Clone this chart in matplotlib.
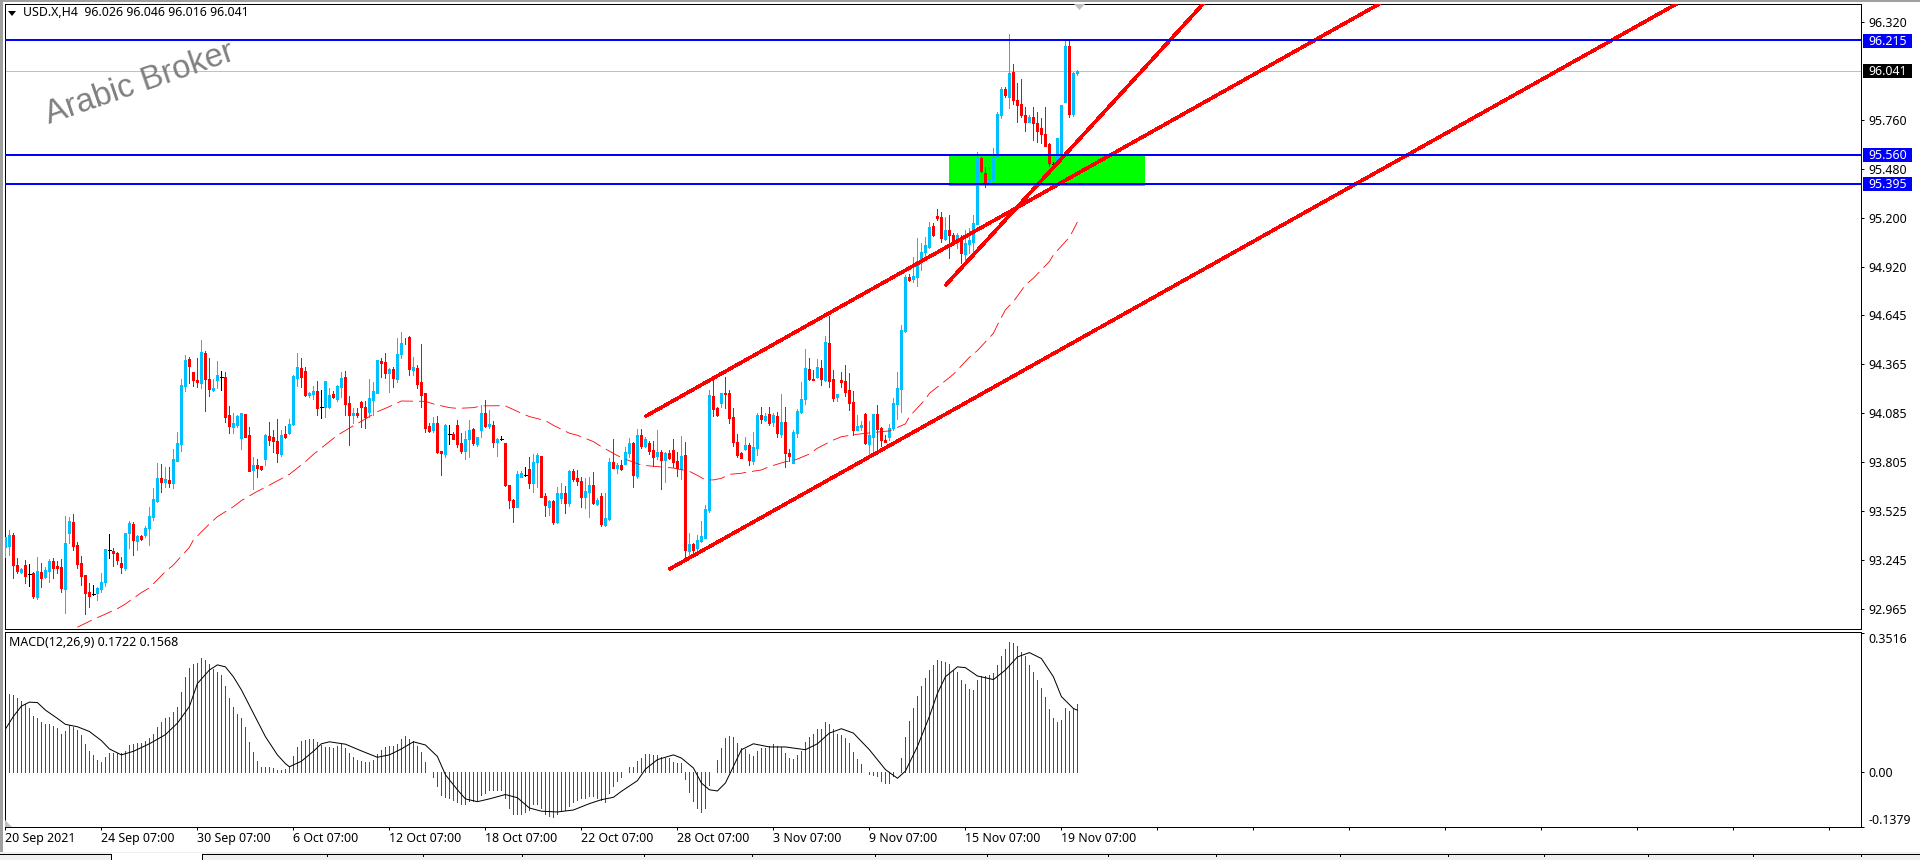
"""USD.X H4 chart with MACD panel, MT4 style."""
import matplotlib
matplotlib.use('Agg')
import matplotlib.pyplot as plt
import numpy as np
from matplotlib.lines import Line2D
from matplotlib.patches import Polygon, Rectangle

# candles, one value per H4 bar, ten per row
opens = [
    93.322, 93.326, 93.388, 93.217, 93.177, 93.217, 93.164, 93.169, 93.036, 93.179,
    93.146, 93.185, 93.240, 93.211, 93.207, 93.082, 93.398, 93.465, 93.331, 93.230,
    93.160, 93.063, 93.049, 93.059, 93.082, 93.122, 93.303, 93.299, 93.287, 93.230,
    93.198, 93.398, 93.451, 93.356, 93.383, 93.386, 93.428, 93.493, 93.583, 93.714,
    93.691, 93.703, 93.687, 93.813, 93.908, 94.240, 94.394, 94.322, 94.274, 94.255,
    94.430, 94.278, 94.217, 94.274, 94.293, 94.291, 94.074, 94.007, 94.015, 93.941,
    94.080, 93.960, 93.760, 93.788, 93.785, 93.821, 93.954, 93.947, 93.927, 93.851,
    93.966, 93.973, 94.023, 94.284, 94.345, 94.327, 94.188, 94.194, 94.211, 94.118,
    94.118, 94.118, 94.194, 94.164, 94.236, 94.293, 94.141, 94.074, 94.087, 94.148,
    94.122, 94.093, 94.160, 94.202, 94.385, 94.375, 94.316, 94.335, 94.280, 94.423,
    94.487, 94.522, 94.331, 94.343, 94.263, 94.198, 94.011, 93.988, 94.027, 93.870,
    93.851, 93.964, 93.966, 94.015, 93.912, 93.870, 93.935, 93.992, 93.908, 93.988,
    94.087, 94.011, 94.017, 93.922, 93.939, 93.914, 93.674, 93.588, 93.550, 93.722,
    93.729, 93.766, 93.684, 93.804, 93.840, 93.611, 93.550, 93.583, 93.463, 93.598,
    93.628, 93.569, 93.754, 93.714, 93.699, 93.604, 93.634, 93.674, 93.566, 93.611,
    93.446, 93.480, 93.804, 93.769, 93.788, 93.794, 93.855, 93.914, 93.726, 93.960,
    93.897, 93.914, 93.874, 93.840, 93.863, 93.817, 93.855, 93.874, 93.811, 93.767,
    93.846, 93.299, 93.337, 93.314, 93.354, 93.373, 93.531, 94.183, 94.116, 94.141,
    94.200, 94.198, 94.063, 93.920, 93.859, 93.878, 93.903, 93.809, 93.886, 94.072,
    94.046, 94.078, 94.034, 94.066, 93.966, 94.034, 93.857, 93.802, 93.973, 94.093,
    94.164, 94.335, 94.280, 94.293, 94.345, 94.274, 94.487, 94.278, 94.175, 94.272,
    94.268, 94.217, 94.148, 93.988, 94.007, 94.080, 93.908, 93.950, 94.080, 94.000,
    93.931, 93.947, 93.998, 94.137, 94.223, 94.554, 94.865, 94.850, 94.865, 94.951,
    95.004, 95.036, 95.154, 95.211, 95.204, 95.082, 95.132, 95.103, 95.074, 95.084,
    94.995, 95.052, 95.065, 95.166, 95.541, 95.456, 95.398, 95.417, 95.551, 95.789,
    95.937, 95.894, 96.035, 95.875, 95.852, 95.789, 95.749, 95.779, 95.745, 95.715,
    95.680, 95.623, 95.509, 95.509, 95.570, 95.865, 96.183, 95.793, 96.026,
]
highs = [
    93.379, 93.417, 93.398, 93.255, 93.198, 93.246, 93.223, 93.179, 93.261, 93.226,
    93.207, 93.249, 93.255, 93.242, 93.249, 93.497, 93.493, 93.508, 93.350, 93.268,
    93.160, 93.112, 93.103, 93.093, 93.169, 93.308, 93.394, 93.312, 93.293, 93.261,
    93.398, 93.468, 93.465, 93.388, 93.388, 93.440, 93.550, 93.655, 93.798, 93.794,
    93.779, 93.779, 93.878, 93.979, 94.278, 94.417, 94.407, 94.322, 94.402, 94.503,
    94.442, 94.402, 94.278, 94.383, 94.326, 94.322, 94.126, 94.084, 94.074, 94.084,
    94.080, 94.007, 93.832, 93.821, 93.785, 93.966, 94.032, 93.988, 94.051, 93.988,
    94.011, 94.049, 94.303, 94.427, 94.402, 94.350, 94.208, 94.240, 94.268, 94.217,
    94.268, 94.227, 94.213, 94.246, 94.322, 94.326, 94.183, 94.112, 94.112, 94.154,
    94.154, 94.278, 94.265, 94.388, 94.398, 94.427, 94.345, 94.347, 94.512, 94.550,
    94.512, 94.526, 94.404, 94.360, 94.480, 94.198, 94.027, 94.065, 94.068, 93.870,
    94.023, 94.017, 93.979, 94.046, 93.969, 93.985, 94.046, 93.998, 93.950, 94.131,
    94.160, 94.103, 94.040, 93.941, 93.954, 93.914, 93.674, 93.592, 93.756, 93.756,
    93.777, 93.832, 93.851, 93.859, 93.840, 93.626, 93.588, 93.588, 93.665, 93.684,
    93.668, 93.760, 93.766, 93.760, 93.722, 93.716, 93.722, 93.747, 93.598, 93.630,
    93.630, 93.827, 93.939, 93.798, 93.817, 93.893, 93.941, 93.918, 93.992, 93.994,
    93.950, 93.927, 93.927, 93.988, 93.874, 93.863, 93.874, 93.935, 93.865, 93.954,
    93.920, 93.398, 93.341, 93.388, 93.468, 93.560, 94.217, 94.284, 94.122, 94.202,
    94.293, 94.217, 94.112, 93.966, 93.863, 93.947, 93.912, 93.977, 94.084, 94.118,
    94.084, 94.118, 94.084, 94.093, 94.194, 94.122, 93.878, 93.988, 94.107, 94.265,
    94.451, 94.398, 94.331, 94.392, 94.388, 94.526, 94.640, 94.331, 94.194, 94.322,
    94.360, 94.312, 94.213, 94.074, 94.040, 94.084, 94.040, 94.080, 94.131, 94.007,
    93.960, 94.023, 94.169, 94.322, 94.588, 94.873, 94.880, 94.979, 95.086, 95.059,
    95.094, 95.179, 95.170, 95.250, 95.236, 95.208, 95.217, 95.113, 95.113, 95.103,
    95.132, 95.141, 95.217, 95.579, 95.547, 95.490, 95.494, 95.598, 95.808, 95.947,
    95.947, 96.252, 96.080, 95.970, 95.995, 95.836, 95.789, 95.833, 95.808, 95.770,
    95.833, 95.627, 95.522, 95.656, 95.846, 96.217, 96.214, 96.036, 96.046,
]
lows = [
    93.265, 93.274, 93.141, 93.169, 93.169, 93.112, 93.099, 93.026, 93.021, 93.093,
    93.141, 93.122, 93.141, 93.169, 93.065, 92.945, 93.341, 93.303, 93.198, 93.103,
    92.937, 92.975, 93.045, 93.017, 93.065, 93.097, 93.255, 93.211, 93.223, 93.173,
    93.188, 93.312, 93.274, 93.303, 93.360, 93.379, 93.331, 93.474, 93.579, 93.636,
    93.665, 93.665, 93.659, 93.813, 93.870, 94.213, 94.255, 94.242, 94.236, 94.230,
    94.099, 94.183, 94.213, 94.227, 94.217, 94.036, 93.973, 93.969, 94.007, 93.880,
    93.947, 93.756, 93.649, 93.722, 93.760, 93.788, 93.903, 93.865, 93.807, 93.840,
    93.941, 93.966, 94.017, 94.240, 94.236, 94.183, 94.179, 94.164, 94.074, 94.059,
    94.061, 94.112, 94.169, 94.156, 94.179, 94.074, 93.903, 94.030, 94.065, 94.007,
    94.002, 94.061, 94.074, 94.198, 94.293, 94.284, 94.208, 94.232, 94.265, 94.398,
    94.480, 94.303, 94.303, 94.227, 94.118, 93.979, 93.979, 93.979, 93.855, 93.731,
    93.832, 93.908, 93.935, 93.893, 93.855, 93.825, 93.836, 93.903, 93.897, 93.947,
    94.007, 93.998, 93.893, 93.840, 93.931, 93.668, 93.541, 93.463, 93.550, 93.722,
    93.726, 93.655, 93.636, 93.665, 93.604, 93.497, 93.503, 93.451, 93.455, 93.573,
    93.512, 93.554, 93.699, 93.674, 93.546, 93.541, 93.493, 93.566, 93.560, 93.440,
    93.440, 93.474, 93.769, 93.741, 93.760, 93.794, 93.836, 93.665, 93.712, 93.884,
    93.893, 93.851, 93.783, 93.821, 93.653, 93.691, 93.825, 93.779, 93.726, 93.710,
    93.255, 93.265, 93.293, 93.293, 93.350, 93.369, 93.522, 94.068, 94.068, 94.118,
    94.112, 94.027, 93.897, 93.836, 93.827, 93.874, 93.788, 93.794, 93.846, 94.030,
    94.042, 94.017, 94.011, 93.947, 93.950, 93.779, 93.809, 93.802, 93.950, 94.084,
    94.137, 94.274, 94.274, 94.284, 94.246, 94.270, 94.236, 94.156, 94.154, 94.236,
    94.183, 94.103, 93.960, 93.988, 93.988, 93.908, 93.840, 93.855, 93.865, 93.897,
    93.920, 93.931, 93.988, 94.051, 94.093, 94.550, 94.842, 94.836, 94.812, 94.903,
    94.979, 95.027, 95.097, 95.189, 95.065, 95.074, 94.970, 95.046, 95.027, 94.945,
    94.941, 94.998, 95.008, 95.166, 95.465, 95.376, 95.395, 95.414, 95.547, 95.774,
    95.894, 95.831, 95.852, 95.747, 95.779, 95.697, 95.749, 95.646, 95.636, 95.631,
    95.612, 95.497, 95.497, 95.503, 95.532, 95.865, 95.779, 95.785, 96.016,
]
closes = [
    93.379, 93.388, 93.217, 93.185, 93.192, 93.154, 93.164, 93.040, 93.183, 93.141,
    93.188, 93.242, 93.202, 93.200, 93.087, 93.345, 93.468, 93.326, 93.223, 93.154,
    93.055, 93.040, 93.049, 93.086, 93.122, 93.308, 93.303, 93.287, 93.246, 93.204,
    93.398, 93.455, 93.360, 93.383, 93.367, 93.426, 93.497, 93.594, 93.714, 93.693,
    93.708, 93.684, 93.823, 93.912, 94.246, 94.388, 94.354, 94.274, 94.263, 94.436,
    94.278, 94.223, 94.228, 94.303, 94.293, 94.061, 94.013, 94.030, 94.068, 94.084,
    93.950, 93.756, 93.788, 93.773, 93.766, 93.960, 93.931, 93.924, 93.859, 93.960,
    93.947, 94.023, 94.297, 94.350, 94.289, 94.188, 94.202, 94.211, 94.114, 94.118,
    94.268, 94.190, 94.175, 94.240, 94.284, 94.137, 94.074, 94.084, 94.076, 94.118,
    94.065, 94.169, 94.211, 94.388, 94.369, 94.316, 94.337, 94.284, 94.423, 94.484,
    94.484, 94.339, 94.350, 94.251, 94.188, 93.998, 93.983, 94.030, 93.861, 93.859,
    94.015, 93.964, 93.937, 93.908, 93.867, 93.939, 93.988, 93.912, 93.947, 94.087,
    94.011, 94.023, 93.922, 93.935, 93.939, 93.672, 93.588, 93.550, 93.737, 93.745,
    93.729, 93.684, 93.804, 93.846, 93.607, 93.558, 93.581, 93.463, 93.628, 93.626,
    93.573, 93.754, 93.710, 93.697, 93.607, 93.640, 93.674, 93.569, 93.588, 93.451,
    93.484, 93.804, 93.769, 93.788, 93.766, 93.861, 93.912, 93.731, 93.960, 93.897,
    93.935, 93.868, 93.836, 93.863, 93.817, 93.859, 93.828, 93.806, 93.769, 93.842,
    93.303, 93.337, 93.303, 93.360, 93.383, 93.537, 94.188, 94.107, 94.076, 94.198,
    94.196, 94.057, 93.920, 93.846, 93.828, 93.901, 93.817, 93.893, 94.074, 94.049,
    94.068, 94.030, 94.074, 93.969, 94.034, 93.859, 93.840, 93.979, 94.097, 94.166,
    94.343, 94.278, 94.276, 94.348, 94.278, 94.491, 94.267, 94.171, 94.194, 94.263,
    94.206, 94.145, 93.988, 94.011, 94.017, 93.912, 93.960, 94.080, 93.992, 93.931,
    93.920, 93.998, 94.143, 94.227, 94.560, 94.865, 94.846, 94.869, 94.955, 95.008,
    95.046, 95.147, 95.103, 95.198, 95.084, 95.132, 95.103, 95.071, 95.103, 94.998,
    95.059, 95.074, 95.170, 95.551, 95.469, 95.398, 95.421, 95.551, 95.795, 95.937,
    95.901, 96.027, 95.875, 95.846, 95.789, 95.751, 95.779, 95.745, 95.699, 95.680,
    95.614, 95.513, 95.509, 95.656, 95.846, 96.185, 95.793, 96.027, 96.041,
]

# moving average, read at sampled bars
ma_bars = [
    18, 22, 24, 28, 30, 34, 36, 40, 42, 46, 47, 51, 53, 57, 59, 63, 65, 69, 71, 75,
    77, 81, 83, 87, 89, 93, 95, 99, 105, 107, 111, 113, 117, 119, 123, 125, 129, 131,
    135, 137, 141, 143, 147, 149, 153, 155, 159, 161, 165, 167, 171, 173, 175, 177,
    179, 181, 184, 185, 189, 191, 195, 197, 201, 203, 207, 209, 213, 215, 219, 221,
    225, 226, 230, 231, 235, 237, 241, 243, 247, 248, 250, 252, 255, 257, 261, 262,
    266, 267, 268,
]
ma_values = [
    92.861, 92.906, 92.926, 92.967, 92.994, 93.059, 93.086, 93.179, 93.217, 93.318,
    93.360, 93.451, 93.493, 93.550, 93.585, 93.638, 93.661, 93.710, 93.735, 93.807,
    93.849, 93.922, 93.958, 94.013, 94.038, 94.093, 94.112, 94.154, 94.152, 94.137,
    94.116, 94.112, 94.116, 94.126, 94.127, 94.126, 94.084, 94.065, 94.042, 94.015,
    93.970, 93.958, 93.922, 93.893, 93.842, 93.821, 93.788, 93.783, 93.775, 93.771,
    93.752, 93.729, 93.703, 93.703, 93.712, 93.735, 93.741, 93.746, 93.760, 93.779,
    93.807, 93.813, 93.851, 93.884, 93.931, 93.950, 93.964, 93.969, 93.979, 93.983,
    94.023, 94.065, 94.164, 94.198, 94.270, 94.307, 94.404, 94.442, 94.541, 94.588,
    94.675, 94.722, 94.817, 94.856, 94.951, 94.989, 95.090, 95.132, 95.177,
]

# trend lines, two anchors each (bar, price)
channel_low_bars = [165.9, 417.9]
channel_low_prices = [93.192, 96.425]
channel_up_bars = [159.9, 343.6]
channel_up_prices = [94.065, 96.425]
steep_bars = [234.9, 299.5]
steep_prices = [94.812, 96.425]

zone_bars = [235.9, 284.9]
zone_prices = [95.385, 95.560]
level_prices = [96.215, 95.560, 95.395]
last_price = 96.041
price_ticks = [96.320, 95.760, 95.480, 95.200, 94.920, 94.645, 94.365, 94.085,
               93.805, 93.525, 93.245, 92.965]

macd_hist = [
    .181, .197, .196, .188, .180, .172, .162, .142, .137, .128,
    .122, .122, .117, .111, .097, .105, .119, .115, .107, .095,
    .072, .055, .043, .032, .027, .038, .049, .050, .049, .049,
    .055, .069, .071, .074, .075, .080, .086, .097, .114, .128,
    .136, .139, .151, .166, .203, .241, .262, .273, .276, .289,
    .283, .273, .260, .254, .245, .218, .187, .164, .147, .136,
    .114, .077, .052, .028, .013, .013, .013, .012, .005, .007,
    .008, .015, .040, .065, .079, .082, .084, .085, .077, .069,
    .064, .064, .062, .067, .072, .061, .049, .038, .032, .029,
    .025, .025, .032, .047, .057, .064, .067, .067, .072, .085,
    .092, .084, .079, .067, .052, .025, 0., -.013, -.035, -.056,
    -.063, -.066, -.069, -.075, -.079, -.079, -.073, -.073, -.071, -.056,
    -.052, -.045, -.045, -.045, -.045, -.065, -.090, -.106, -.106, -.104,
    -.100, -.094, -.081, -.079, -.090, -.105, -.109, -.113, -.106, -.098,
    -.095, -.085, -.075, -.070, -.064, -.064, -.060, -.060, -.064, -.069,
    -.075, -.052, -.035, -.023, -.013, 0., .014, .014, .029, .037,
    .047, .047, .044, .044, .038, .037, .037, .025, .023, .023,
    -.017, -.049, -.073, -.090, -.099, -.090, -.033, .002, .032, .062,
    .087, .092, .089, .075, .062, .059, .047, .042, .054, .062,
    .062, .067, .072, .067, .063, .050, .037, .034, .044, .053,
    .077, .089, .097, .110, .110, .127, .122, .110, .096, .095,
    .087, .074, .051, .034, .022, .002, -.005, -.007, -.010, -.021,
    -.028, -.028, -.010, .002, .037, .090, .130, .162, .192, .218,
    .238, .258, .270, .283, .280, .278, .273, .258, .253, .234,
    .223, .210, .208, .233, .243, .243, .246, .250, .270, .293,
    .310, .328, .325, .318, .303, .293, .270, .253, .233, .213,
    .189, .160, .137, .128, .132, .162, .155, .162, .1722,
]
signal_bars = [
    0, 2, 4, 6, 8, 10, 13, 15, 18, 21, 24, 26, 29, 32, 36, 40, 43, 46, 48, 51, 53,
    55, 57, 59, 62, 65, 68, 70, 71, 74, 77, 79, 81, 85, 89, 93, 96, 99, 102, 105,
    108, 110, 113, 115, 118, 121, 125, 128, 131, 134, 138, 142, 146, 149, 152, 154,
    158, 160, 163, 167, 169, 172, 174, 176, 178, 180, 182, 184, 187, 191, 195, 200,
    203, 206, 209, 212, 216, 220, 223, 225, 228, 231, 233, 235, 238, 240, 243, 247,
    250, 253, 256, 259, 262, 264, 267, 268,
]
signal_values = [
    .109, .141, .167, .177, .176, .157, .136, .121, .115, .103, .080, .059, .044,
    .053, .072, .095, .124, .166, .224, .258, .271, .266, .241, .208, .149, .090,
    .044, .022, .014, .028, .053, .072, .077, .071, .054, .038, .044, .059, .077,
    .069, .040, -.006, -.044, -.067, -.074, -.067, -.056, -.064, -.090, -.098,
    -.100, -.095, -.079, -.069, -.063, -.048, -.021, .008, .032, .044, .036, .011,
    -.027, -.044, -.047, -.027, .015, .057, .072, .064, .064, .057, .072, .099,
    .110, .099, .057, .007, -.015, .003, .065, .141, .199, .241, .266, .264, .243,
    .234, .258, .291, .302, .287, .241, .191, .161, .1568,
]
macd_ticks = [0.3516, 0.0, -0.1379]
macd_tick_labels = ['0.3516', '0.00', '-0.1379']

date_ticks = list(range(0, 457, 24))
date_labels = ['20 Sep 2021', '24 Sep 07:00', '30 Sep 07:00', '6 Oct 07:00', '12 Oct 07:00',
               '18 Oct 07:00', '22 Oct 07:00', '28 Oct 07:00', '3 Nov 07:00', '9 Nov 07:00',
               '15 Nov 07:00', '19 Nov 07:00'] + [''] * 8

W, H = 1920, 860
BULL = '#00bfff'
BEAR = '#ff0000'
FONT = 'Noto Sans'
FS = 8.9
PX = 0.72
PANEL_TOP, PANEL_BOTTOM = 3.5, 629
Y_MIN, Y_MAX = 92.851, 96.4257


def box(left, top, right, bottom):
    return [left / W, 1 - bottom / H, (right - left) / W, (bottom - top) / H]


def fx(x):
    return x / W


def fy(y):
    return 1 - y / H


def price_px(price):
    return PANEL_TOP + (Y_MAX - price) / (Y_MAX - Y_MIN) * (PANEL_BOTTOM - PANEL_TOP)


def draw_candles(ax, o, h, l, c):
    o, h, l, c = map(np.array, (o, h, l, c))
    bars = np.arange(len(o))
    colors = np.where(c > o, BULL, np.where(c < o, BEAR, 'black'))
    ax.vlines(bars, l, h, colors=colors, lw=PX, zorder=3, antialiased=False)
    ax.vlines(bars, o, c, colors=colors, lw=3 * PX, zorder=3, antialiased=False)
    doji = o == c
    ax.hlines(o[doji], bars[doji] - 0.4, bars[doji] + 0.4, colors='black', lw=PX,
              zorder=3, antialiased=False)


def price_box(fig, price, fc):
    centre = price_px(price) + 0.5
    fig.add_artist(Rectangle((fx(1863), fy(centre + 7)), fx(49), 14 / H, fc=fc, ec='none',
                             transform=fig.transFigure, zorder=8))
    fig.text(fx(1868), fy(centre + 0.5), f'{price:.3f}', color='white', fontsize=FS,
             va='center', ha='left', zorder=9)


plt.rcParams['font.family'] = FONT
plt.rcParams['lines.scale_dashes'] = False
plt.rcParams['axes.linewidth'] = PX

fig = plt.figure(figsize=(W / 100, H / 100), dpi=100, facecolor='white')
ax = fig.add_axes(box(4.5, PANEL_TOP, 1861, PANEL_BOTTOM))
ax_m = fig.add_axes(box(4.5, 631.5, 1861, 827))
xlim = (-0.225, 463.9)

# price panel
ax.add_patch(Rectangle((zone_bars[0], zone_prices[0]), zone_bars[1] - zone_bars[0],
                       zone_prices[1] - zone_prices[0], color='#00ff00', lw=0, zorder=1))
ax.axhline(last_price, color='#c0c0c0', lw=PX, zorder=2, antialiased=False)
draw_candles(ax, opens, highs, lows, closes)
ax.plot(ma_bars, ma_values, color=BEAR, lw=0.6, dashes=(11.5, 4.3), zorder=4)
for xs, ys in ((channel_low_bars, channel_low_prices),
               (channel_up_bars, channel_up_prices),
               (steep_bars, steep_prices)):
    ax.plot(xs, ys, color=BEAR, lw=2.5 * PX, zorder=5, antialiased=False,
            solid_capstyle='butt')
for level in level_prices:
    ax.axhline(level, color='#0000ff', lw=2 * PX, zorder=6, antialiased=False)

ax.set_xlim(xlim)
ax.set_ylim(Y_MIN, Y_MAX)
ax.set_xticks([])
ax.yaxis.tick_right()
ax.set_yticks(price_ticks, [f'{p:.3f}' for p in price_ticks])
ax.tick_params(axis='y', length=3 * PX, width=PX, pad=3, labelsize=FS)

# right-hand price boxes
for level in level_prices:
    price_box(fig, level, '#0000ff')
price_box(fig, last_price, 'black')

# macd panel
ax_m.vlines(np.arange(len(macd_hist)), 0, macd_hist, colors=BEAR, lw=PX, antialiased=False)
ax_m.plot(signal_bars, signal_values, color='black', lw=PX, zorder=4)
ax_m.set_xlim(xlim)
ax_m.set_ylim(-0.1379, 0.3552)
ax_m.yaxis.tick_right()
ax_m.set_yticks(macd_ticks, macd_tick_labels)
ax_m.tick_params(axis='y', length=3 * PX, width=PX, pad=3, labelsize=FS)
tick_text = ax_m.get_yticklabels()
tick_text[0].set_va('top')
tick_text[2].set_va('bottom')
ax_m.set_xticks(date_ticks, date_labels, ha='left')
ax_m.tick_params(axis='x', length=3 * PX, width=PX, pad=1.5, labelsize=FS)

# header texts
fig.text(fx(23), fy(13), 'USD.X,H4  96.026 96.046 96.016 96.041', fontsize=FS, va='center')
fig.text(fx(9), fy(642), 'MACD(12,26,9) 0.1722 0.1568', fontsize=FS, va='center')
fig.text(fx(49), fy(124), 'Arabic Broker', family='Liberation Sans', fontsize=23.5,
         color='#808080', rotation=19, rotation_mode='anchor', va='baseline', ha='left')

# terminal chrome
tri = [((8, 11), (16, 11), (12, 16), 'black'),
       ((1074, 4), (1085, 4), (1079.5, 10), '#c0c0c0'),
       ((5, 820), (5, 827), (12, 827), '#c0c0c0')]
for a, b, c, col in tri:
    fig.add_artist(Polygon([(fx(a[0]), fy(a[1])), (fx(b[0]), fy(b[1])), (fx(c[0]), fy(c[1]))],
                           closed=True, fc=col, ec='none', transform=fig.transFigure, zorder=7))
fig.add_artist(Rectangle((0, fy(853)), fx(2.5), fy(0) - fy(853), fc='#a0a0a0', ec='none',
                         transform=fig.transFigure))
fig.add_artist(Rectangle((0, fy(1.5)), 1, fy(0) - fy(1.5), fc='#a0a0a0', ec='none',
                         transform=fig.transFigure))
fig.add_artist(Rectangle((0, 0), 1, fy(851.5), fc='#f0f0f0', ec='none',
                         transform=fig.transFigure))
fig.add_artist(Rectangle((fx(112), 0), fx(90), fy(852.5), fc='white', ec='none',
                         transform=fig.transFigure))
for x0, x1 in ((0, 111), (202, W)):
    fig.add_artist(Line2D([fx(x0), fx(x1)], [fy(853.5)] * 2, color='black', lw=PX,
                          transform=fig.transFigure))
fig.add_artist(Line2D([fx(111)] * 2, [fy(853.5), 0], color='black', lw=PX,
                      transform=fig.transFigure))
fig.add_artist(Line2D([fx(202)] * 2, [fy(853.5), 0], color='black', lw=PX,
                      transform=fig.transFigure))
for x in (327, 423, 522, 644, 752, 875, 987, 1108, 1216, 1340, 1448, 1544, 1648, 1753, 1861):
    fig.add_artist(Line2D([fx(x)] * 2, [fy(854), fy(856)], color='black', lw=PX,
                          transform=fig.transFigure))

fig.savefig('out.png', dpi=100, facecolor='white')
